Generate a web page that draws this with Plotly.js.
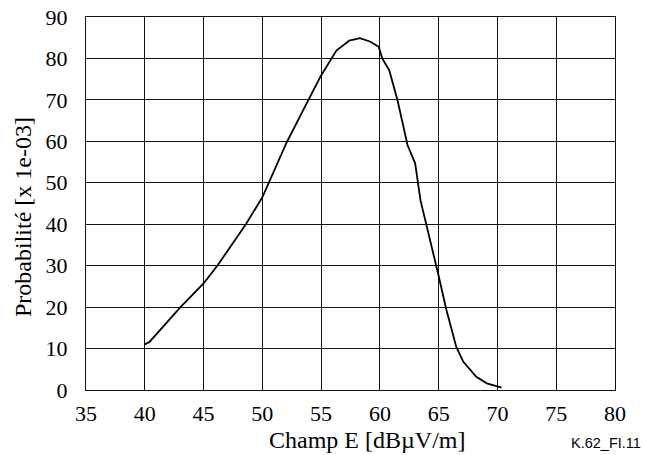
<!DOCTYPE html>
<html>
<head>
<meta charset="utf-8">
<script src="https://cdn.plot.ly/plotly-3.0.1.min.js"></script>
<style>body{margin:0;padding:0;background:#fff;}#chart{width:645px;height:455px;}</style>
</head>
<body>
<div id="chart"></div>
<script>
const fieldE = [40, 40.4, 43, 45, 46.2, 47.5, 48.6, 50, 52.1, 53.9, 55, 56.3, 57.4, 58.3, 59.15, 59.9, 60.2, 60.8, 61.5, 62.35, 63.0, 63.45, 63.96, 64.95, 65.66, 66.5, 67.1, 68.2, 69.1, 70.35];
const probability = [11, 11.6, 19.9, 25.7, 30.1, 35.4, 40, 46.5, 59.9, 69.9, 75.9, 81.9, 84.3, 84.9, 84.1, 82.8, 80, 77.1, 69.9, 59.1, 54.7, 45.8, 40, 28.1, 19.3, 10.4, 6.8, 3.2, 1.6, 0.6];
const xTicks = [35, 40, 45, 50, 55, 60, 65, 70, 75, 80];
const yTicks = [0, 10, 20, 30, 40, 50, 60, 70, 80, 90];
const xTitle = 'Champ E [dBµV/m]';
const yTitle = 'Probabilité [x 1e-03]';
const figLabel = 'K.62_FI.11';

const serif = '"Liberation Serif", "Times New Roman", serif';
const tickFont = {family: serif, size: 22, color: '#000'};
const titleFont = {family: serif, size: 24, color: '#000'};

Plotly.newPlot('chart', [{
  x: fieldE, y: probability, type: 'scatter', mode: 'lines',
  line: {color: '#000', width: 1.8},
  hoverinfo: 'none', showlegend: false
}], {
  width: 645, height: 455,
  margin: {l: 86, r: 30, t: 17, b: 65},
  paper_bgcolor: '#fff', plot_bgcolor: '#fff',
  font: tickFont,
  xaxis: {
    range: [35, 80], tickvals: xTicks, ticktext: xTicks.map(String),
    showgrid: true, gridcolor: '#111', gridwidth: 1.2,
    showline: true, linecolor: '#111', linewidth: 1.2, mirror: true,
    zeroline: false, ticks: '', ticklabelstandoff: 3,
    tickfont: tickFont
  },
  yaxis: {
    range: [0, 90], tickvals: yTicks, ticktext: yTicks.map(String),
    showgrid: true, gridcolor: '#111', gridwidth: 1.2,
    showline: true, linecolor: '#111', linewidth: 1.2, mirror: true,
    zeroline: false, ticks: '', ticklabelstandoff: 13,
    tickfont: tickFont
  },
  annotations: [
    {text: xTitle, xref: 'paper', yref: 'paper', x: 0.532, y: -0.133,
     xanchor: 'center', yanchor: 'middle', showarrow: false, font: titleFont},
    {text: yTitle, xref: 'paper', yref: 'paper', x: -0.119, y: 0.464, textangle: -90,
     xanchor: 'center', yanchor: 'middle', showarrow: false, font: titleFont},
    {text: figLabel, xref: 'paper', yref: 'paper', x: 1.053, y: -0.142,
     xanchor: 'right', yanchor: 'middle', showarrow: false,
     font: {family: '"Liberation Sans", Arial, sans-serif', size: 14.5, color: '#000'}}
  ]
}, {staticPlot: true, displayModeBar: false});
</script>
</body>
</html>
